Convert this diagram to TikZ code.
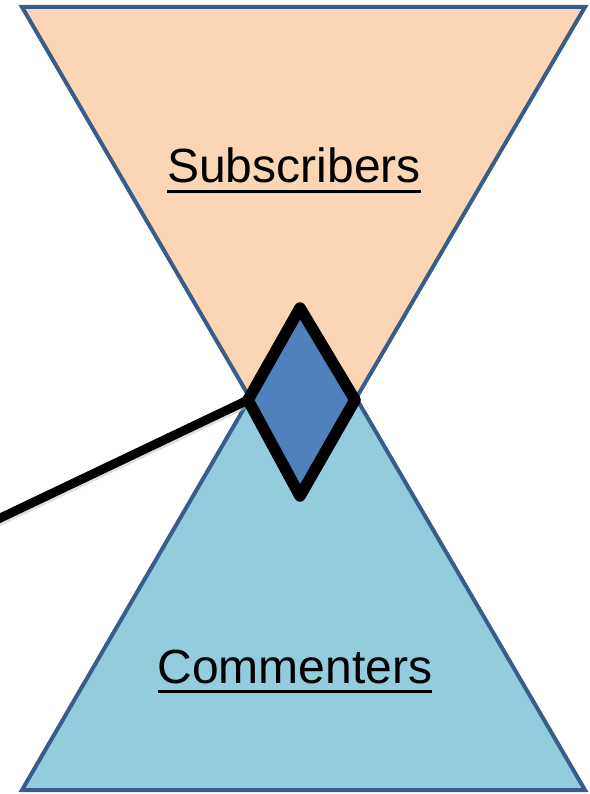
\documentclass[tikz,border=0pt]{standalone}
\usepackage{fontspec}
\setmainfont{Liberation Sans}
\definecolor{edgeblue}{HTML}{385D8A}
\definecolor{peach}{HTML}{FCD5B5}
\definecolor{skyblue}{HTML}{93CDDD}
\definecolor{midblue}{HTML}{4F81BD}
\newcommand\ulabel[1]{\setbox0\hbox{#1}\leavevmode\rlap{\rule[-10pt]{\wd0}{3pt}}\box0}
\tikzset{
  funnel/.style={draw=edgeblue, line width=4pt, line join=miter},
  caption/.style={anchor=base, inner sep=0pt, font=\fontsize{48}{56}\selectfont},
  hub/.style={draw=black, fill=midblue, line width=11.5pt, line join=round},
  link/.style={draw=black, line width=9pt}
}
\begin{document}
\begin{tikzpicture}[x=1pt, y=-1pt]
\useasboundingbox (0,0) rectangle (589,794);
% upper funnel
\coordinate (tl) at (22,7);
\coordinate (tr) at (585,7);
\coordinate (tapex) at (303,489);
\filldraw[funnel, fill=peach] (tl) -- (tr) -- (tapex) -- cycle;
% lower funnel
\coordinate (bl) at (22,790);
\coordinate (br) at (585,790);
\coordinate (bapex) at (303,307);
\filldraw[funnel, fill=skyblue] (bl) -- (br) -- (bapex) -- cycle;
% labels
\node[caption] (subs) at (294,183) {\ulabel{Subscribers}};
\node[caption] (comm) at (295,683) {\ulabel{Commenters}};
% junction diamond corners
\coordinate (hubN) at (300,308);
\coordinate (hubE) at (355,400);
\coordinate (hubS) at (300,496);
\coordinate (hubW) at (248,400);
% pointer into the junction
\coordinate (tail) at (-6,521);
\draw[line width=9pt, black!25, opacity=0.5] ([yshift=-3pt]tail) -- ([yshift=-3pt]hubW);
\draw[link] (tail) -- (hubW);
\filldraw[hub] (hubN) -- (hubE) -- (hubS) -- (hubW) -- cycle;
\end{tikzpicture}
\end{document}
